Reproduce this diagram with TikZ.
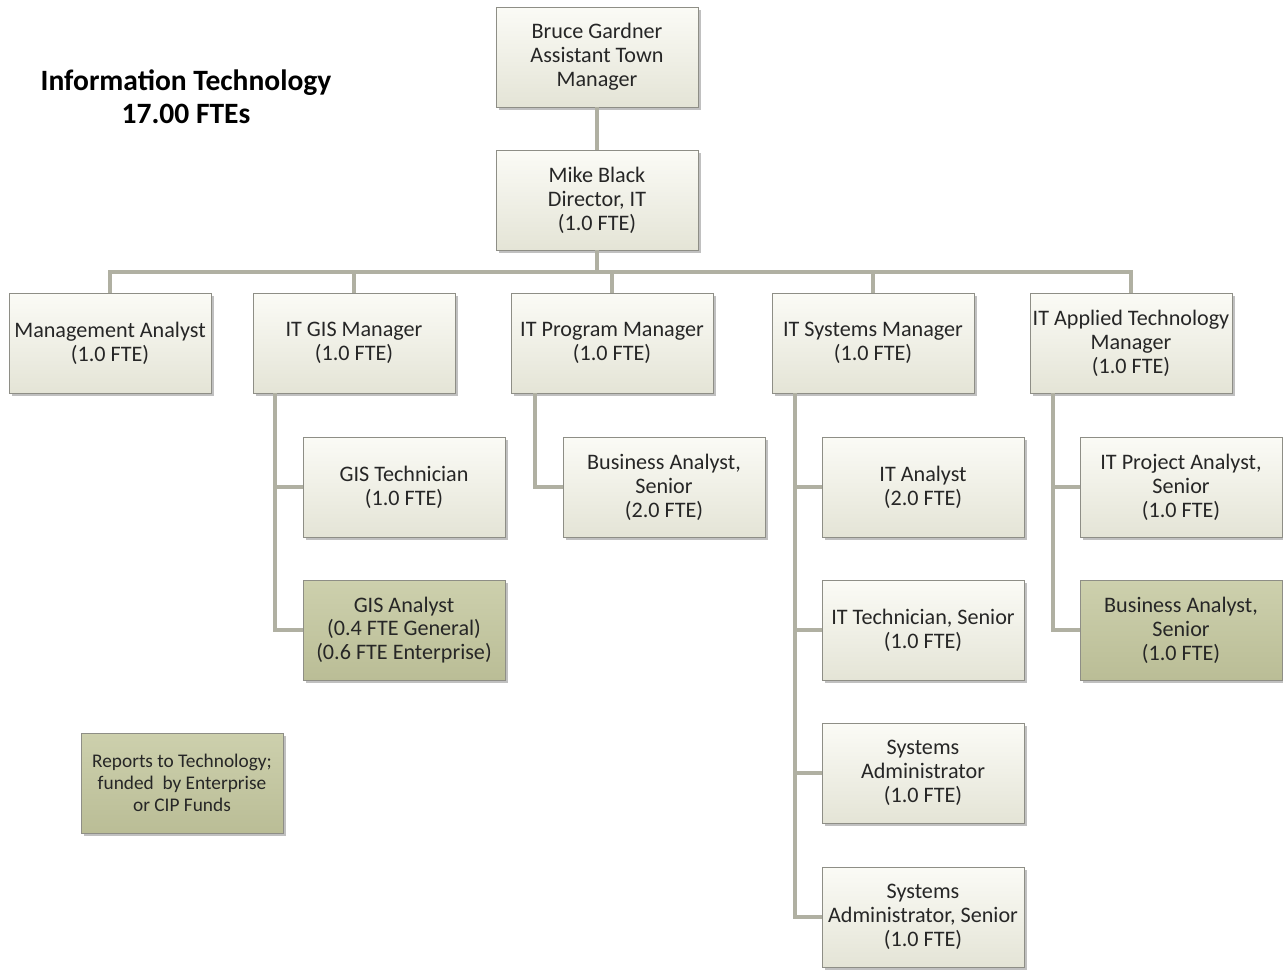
\documentclass[tikz,border=0pt]{standalone}
\usepackage{fontspec}
\setmainfont{Carlito}
\usepackage{xcolor}
\usepackage{tikz}
\usetikzlibrary{positioning,shadows,calc}

\definecolor{boxtop}{HTML}{FBFBF6}
\definecolor{boxbot}{HTML}{E4E4D6}
\definecolor{olivetop}{HTML}{CDD0AD}
\definecolor{olivebot}{HTML}{BABD96}
\definecolor{linegray}{HTML}{B0B0A2}
\definecolor{edgegray}{HTML}{8E8E86}
\definecolor{txt}{HTML}{262626}

\begin{document}
\begin{tikzpicture}[
    x=0.02cm, y=-0.02cm,
    post/.style={draw=edgegray, line width=0.5pt, top color=boxtop, bottom color=boxbot,
      minimum width=4.04cm, minimum height=2.0cm, align=center, inner sep=1pt,
      text=txt, font=\fontsize{12.6}{13.6}\selectfont,
      drop shadow={shadow xshift=1.6pt, shadow yshift=-1.6pt, fill=black!45, opacity=0.55}},
    funded/.style={post, top color=olivetop, bottom color=olivebot},
    conn/.style={draw=linegray, line width=2.3pt}
  ]
    \useasboundingbox (0,0) rectangle (1283,970);

    % Title
    \node[font=\fontsize{16.8}{18.7}\selectfont\bfseries, align=center, text=black] (title) at (186, 97)
      {Information Technology\\17.00 FTEs};

    % Top of the chart
    \node[post] (atm) at (597, 57) {Bruce Gardner\\Assistant Town\\Manager};
    \node[post] (dir) at (597, 200) {Mike Black\\Director, IT\\(1.0 FTE)};

    % Managers row
    \node[post] (mgmt) at (110, 343) {Management Analyst\\(1.0 FTE)};
    \node[post] (gis)  at (354, 343) {IT GIS Manager\\(1.0 FTE)};
    \node[post] (prog) at (612, 343) {IT Program Manager\\(1.0 FTE)};
    \node[post] (sys)  at (873, 343) {IT Systems Manager\\(1.0 FTE)};
    \node[post] (appl) at (1131, 343) {IT Applied Technology\\Manager\\(1.0 FTE)};

    % Staff under each manager
    \node[post]   (gistech) at (404, 487) {GIS Technician\\(1.0 FTE)};
    \node[funded] (gisana)  at (404, 630) {GIS Analyst\\(0.4 FTE General)\\(0.6 FTE Enterprise)};
    \node[post]   (busana)  at (664, 487) {Business Analyst,\\Senior\\(2.0 FTE)};
    \node[post]   (itana)   at (923, 487) {IT Analyst\\(2.0 FTE)};
    \node[post]   (ittech)  at (923, 630) {IT Technician, Senior\\(1.0 FTE)};
    \node[post]   (sysadm)  at (923, 773) {Systems\\Administrator\\(1.0 FTE)};
    \node[post]   (sysadms) at (923, 917) {Systems\\Administrator, Senior\\(1.0 FTE)};
    \node[post]   (projana) at (1181, 487) {IT Project Analyst,\\Senior\\(1.0 FTE)};
    \node[funded] (busanas) at (1181, 630) {Business Analyst,\\Senior\\(1.0 FTE)};

    % Legend
    \node[funded, font=\fontsize{11}{12.5}\selectfont] (legend) at (182, 783)
      {Reports to Technology;\\funded~ by Enterprise\\or CIP Funds};

    % Connectors
    \coordinate (bus) at (597, 272);
    \draw[conn] (atm) -- (dir);
    \draw[conn] (dir) -- (bus);
    \draw[conn] (mgmt.north) |- (bus) -| (appl.north);
    \draw[conn] (gis.north) -- (gis.north |- bus);
    \draw[conn] (prog.north) -- (prog.north |- bus);
    \draw[conn] (sys.north) -- (sys.north |- bus);

    \coordinate (gistrunk) at ($(gis.south west)+(22,0)$);
    \coordinate (progtrunk) at ($(prog.south west)+(24,0)$);
    \coordinate (systrunk) at ($(sys.south west)+(23,0)$);
    \coordinate (appltrunk) at ($(appl.south west)+(23,0)$);
    \draw[conn] (gistrunk) |- (gistech.west);
    \draw[conn] (gistrunk) |- (gisana.west);
    \draw[conn] (progtrunk) |- (busana.west);
    \draw[conn] (systrunk) |- (itana.west);
    \draw[conn] (systrunk) |- (ittech.west);
    \draw[conn] (systrunk) |- (sysadm.west);
    \draw[conn] (systrunk) |- (sysadms.west);
    \draw[conn] (appltrunk) |- (projana.west);
    \draw[conn] (appltrunk) |- (busanas.west);

  \end{tikzpicture}
\end{document}
